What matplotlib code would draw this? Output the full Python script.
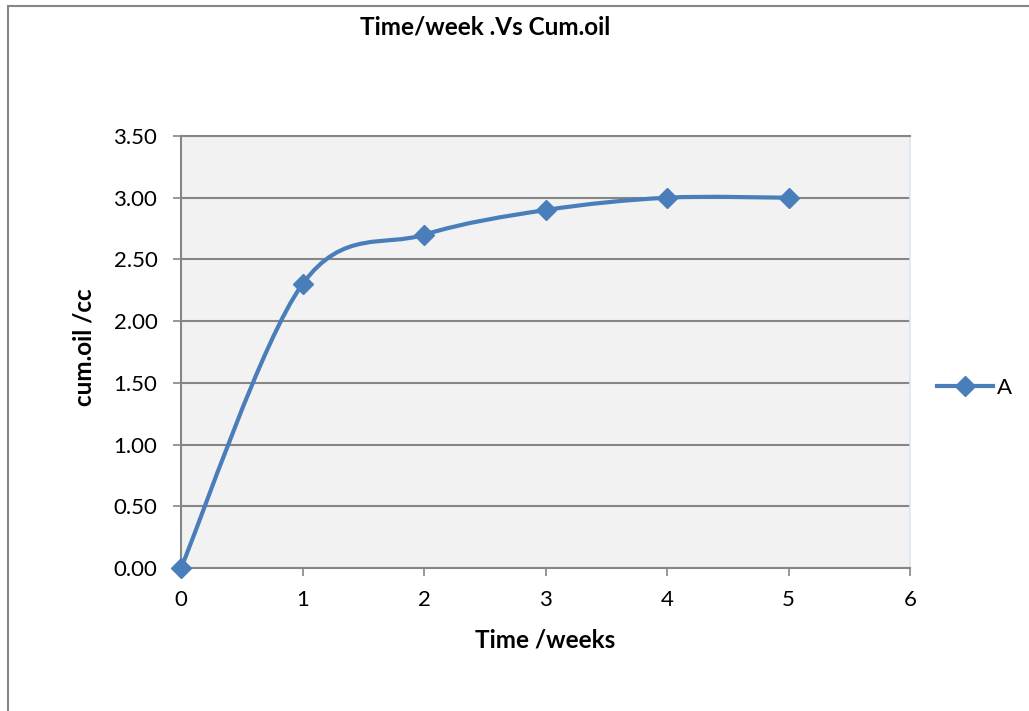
import numpy as np
import matplotlib.pyplot as plt
from matplotlib.path import Path
from matplotlib.patches import PathPatch, Rectangle
from matplotlib.lines import Line2D

# data
weeks = [0, 1, 2, 3, 4, 5]
cum_oil = [0.00, 2.30, 2.70, 2.90, 3.00, 3.00]
series_name = "A"
yticks = [0.0, 0.5, 1.0, 1.5, 2.0, 2.5, 3.0, 3.5]
xticks = [0, 1, 2, 3, 4, 5, 6]

plt.rcParams['font.family'] = ['Lato', 'DejaVu Sans']

blue = '#4a7ebb'
grey = '#868686'

fig = plt.figure(figsize=(10.29, 7.11), dpi=100)
ax = fig.add_axes([181/1029, 1 - 568/711, 729/1029, 432/711])
ax.set_facecolor('#f2f2f2')

# excel-style smoothed line (catmull-rom as bezier segments)
pts = np.column_stack([weeks, cum_oil]).astype(float)
padded = np.vstack([pts[0], pts, pts[-1]])
verts = [tuple(pts[0])]
codes = [Path.MOVETO]
for i in range(len(pts) - 1):
    p0, p1, p2, p3 = padded[i], padded[i+1], padded[i+2], padded[i+3]
    c1 = p1 + (p2 - p0) / 6
    c2 = p2 - (p3 - p1) / 6
    verts += [tuple(c1), tuple(c2), tuple(p2)]
    codes += [Path.CURVE4] * 3
ax.add_patch(PathPatch(Path(verts, codes), facecolor='none', edgecolor=blue,
                       lw=3, capstyle='round', joinstyle='round', zorder=3, clip_on=False))
ax.plot(weeks, cum_oil, 'D', color=blue, markersize=10, zorder=4, clip_on=False)

ax.set_xlim(0, 6)
ax.set_ylim(0, 3.5)
ax.set_xticks(xticks)
ax.set_yticks(yticks)
ax.set_yticklabels(['%.2f' % v for v in yticks])
ax.yaxis.grid(True, color=grey, lw=1.5)
ax.set_axisbelow(True)
ax.tick_params(axis='both', labelsize=16, colors=grey, labelcolor='black',
               length=6, width=1.2)
ax.tick_params(axis='y', pad=11)
ax.tick_params(axis='x', pad=10)
for s in ['left', 'bottom']:
    ax.spines[s].set_color(grey)
    ax.spines[s].set_linewidth(1.5)
ax.spines['top'].set_color(grey)
ax.spines['top'].set_linewidth(1.5)
ax.spines['right'].set_color('#dce6f2')
ax.spines['right'].set_linewidth(1.2)

ax.set_xlabel('Time /weeks', fontsize=17.5, fontweight='bold', labelpad=13)
ax.set_ylabel('cum.oil /cc', fontsize=17.5, fontweight='bold')
ax.yaxis.set_label_coords(-0.117, 0.512)
fig.text(485/1029, 1 - 27/711, 'Time/week .Vs Cum.oil', fontsize=17.5,
         fontweight='bold', ha='center', va='center')

handle = Line2D([], [], color=blue, lw=3, marker='D', markersize=10)
fig.legend([handle], [series_name], loc='center left', frameon=False,
           bbox_to_anchor=(937/1029, 1 - 388/711), fontsize=16,
           handlelength=2.5, handletextpad=0.2, borderpad=0, borderaxespad=0)

# outer chart border
fig.add_artist(Rectangle((8/1029, -0.1), 1.2, 1.1 - 6/711, transform=fig.transFigure,
                         fill=False, edgecolor=grey, lw=1.5, clip_on=False))

fig.savefig('out.png', dpi=100)
